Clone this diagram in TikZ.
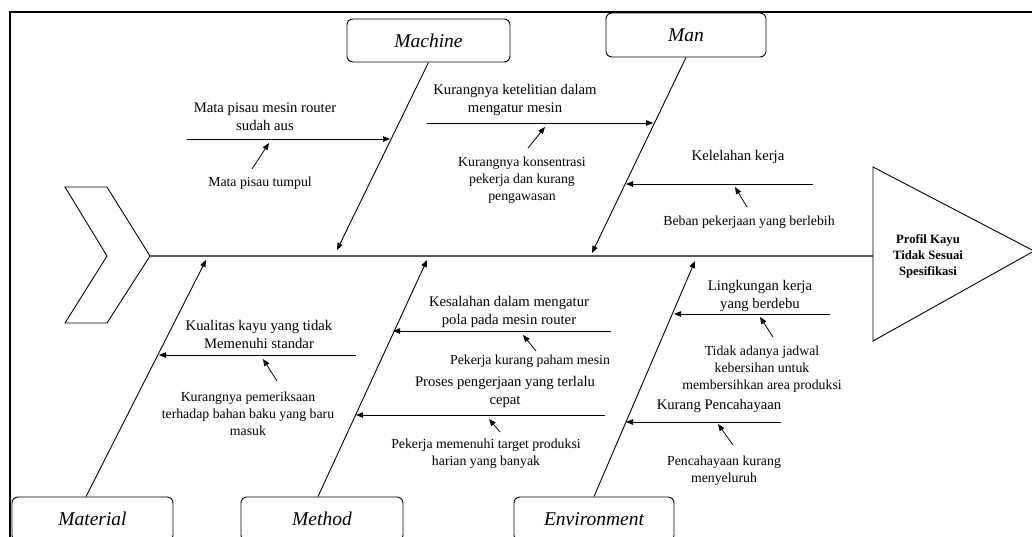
\documentclass[tikz,border=0pt]{standalone}
\usepackage{fontspec}
\setmainfont{Liberation Serif}
\usetikzlibrary{arrows.meta}
\begin{document}
\begin{tikzpicture}[x=1pt,y=-1pt,
  cat/.style={draw,rounded corners=6pt,line width=0.9pt,minimum width=161pt,minimum height=44pt,inner sep=0pt,font=\fontsize{19.5}{22}\selectfont\itshape},
  lbl/.style={align=center,font=\fontsize{14.7}{18}\selectfont,inner sep=0pt},
  sml/.style={align=center,font=\fontsize{13.8}{17}\selectfont,inner sep=0pt},
  hd/.style={align=center,font=\fontsize{12.7}{16}\selectfont\bfseries,inner sep=0pt},
  arr/.style={-{Triangle[length=7pt,width=5.5pt]},line width=0.8pt},
  bone/.style={line width=0.9pt,-{Triangle[length=7pt,width=5.5pt]}},
  outline/.style={line width=0.9pt,line join=miter},
]
\useasboundingbox (0,0) rectangle (1032,536);
\clip (0,0) rectangle (1032,536);
% frame
\draw[line width=1.4pt] (10,560) -- (10,12) -- (1040,12);

% fish tail (chevron) and spine
\coordinate (sp1) at (150,256);
\coordinate (sp2) at (873,256);
\draw[outline] (65,187) -- (107,187) -- (sp1) -- (107,323) -- (65,323) -- (107,256) -- cycle;
\draw[line width=1.4pt,gray!70!black] (sp1) -- (sp2);

% fish head
\draw[outline] (873,167) -- (1034,251) -- (873,341) -- cycle;
\node[hd] (effect) at (928,256) {Profil Kayu\\Tidak Sesuai\\Spesifikasi};

% categories
\node[cat,minimum width=163pt,minimum height=43pt] (machine) at (428.5,40.5) {Machine};
\node[cat,minimum width=160pt] (man) at (686,35) {Man};
\node[cat] (material) at (92.5,519) {Material};
\node[cat,minimum width=162pt] (method) at (322,519) {Method};
\node[cat,minimum width=160pt] (environment) at (594,519) {Environment};

% bone end points on spine
\coordinate (mcT) at (337,250);
\coordinate (mnT) at (592,253);
\coordinate (mtT) at (206,260);
\coordinate (meT) at (427,260);
\coordinate (enT) at (695,261);

\draw[bone] (machine.south) -- (mcT);
\draw[bone] (man.south) -- (mnT);
\draw[bone] ([xshift=-6.5pt]material.north) -- (mtT);
\draw[bone] ([xshift=-4pt]method.north) -- (meT);
\draw[bone] (environment.north) -- (enT);

% ---- Machine
\node[lbl] (c1) at (265,117) {Mata pisau mesin router\\sudah aus};
\coordinate (c1s) at (187,139); \coordinate (c1e) at (390,139);
\draw[arr] (c1s) -- (c1e);
\node[sml] (c1a) at (260,183) {Mata pisau tumpul};
\coordinate (c1at) at (252,169); \coordinate (c1ah) at (269,143);
\draw[arr] (c1at) -- (c1ah);

% ---- Man
\node[lbl] (c2) at (515,100) {Kurangnya ketelitian dalam\\mengatur mesin};
\coordinate (c2s) at (427,123); \coordinate (c2e) at (653,123);
\draw[arr] (c2s) -- (c2e);
\coordinate (c2at) at (528,148); \coordinate (c2ah) at (545,127);
\draw[arr] (c2at) -- (c2ah);
\node[sml] (c2a) at (522,180) {Kurangnya konsentrasi\\pekerja dan kurang\\pengawasan};

\node[lbl] (c3) at (738,157) {Kelelahan kerja};
\coordinate (c3s) at (813,184); \coordinate (c3e) at (626,184);
\draw[arr] (c3s) -- (c3e);
\coordinate (c3at) at (747,207); \coordinate (c3ah) at (735,187);
\draw[arr] (c3at) -- (c3ah);
\node[sml] (c3a) at (749,222) {Beban pekerjaan yang berlebih};

% ---- Material
\node[lbl] (c4) at (259,334) {Kualitas kayu yang tidak\\Memenuhi standar};
\coordinate (c4s) at (356,355); \coordinate (c4e) at (159,355);
\draw[arr] (c4s) -- (c4e);
\coordinate (c4at) at (277,381); \coordinate (c4ah) at (263,359);
\draw[arr] (c4at) -- (c4ah);
\node[sml] (c4a) at (248,414) {Kurangnya pemeriksaan\\terhadap bahan baku yang baru\\masuk};

% ---- Method
\node[lbl] (c5) at (509,312) {Kesalahan dalam mengatur\\pola pada mesin router};
\coordinate (c5s) at (611,331); \coordinate (c5e) at (393,331);
\draw[arr] (c5s) -- (c5e);
\coordinate (c5at) at (536,351); \coordinate (c5ah) at (523,335);
\draw[arr] (c5at) -- (c5ah);
\node[sml] (c5a) at (530,361) {Pekerja kurang paham mesin};

\node[lbl] (c6) at (505,392) {Proses pengerjaan yang terlalu\\cepat};
\coordinate (c6s) at (605,415); \coordinate (c6e) at (356,415);
\draw[arr] (c6s) -- (c6e);
\coordinate (c6at) at (500,432); \coordinate (c6ah) at (489,419);
\draw[arr] (c6at) -- (c6ah);
\node[sml] (c6a) at (486,454) {Pekerja memenuhi target produksi\\harian yang banyak};

% ---- Environment
\node[lbl] (c7) at (760,296) {Lingkungan kerja\\yang berdebu};
\coordinate (c7s) at (830,314); \coordinate (c7e) at (674,314);
\draw[arr] (c7s) -- (c7e);
\coordinate (c7at) at (773,337); \coordinate (c7ah) at (760,317);
\draw[arr] (c7at) -- (c7ah);
\node[sml] (c7a) at (762,369) {Tidak adanya jadwal\\kebersihan untuk\\membersihkan area produksi};

\node[lbl] (c8) at (719,406) {Kurang Pencahayaan};
\coordinate (c8s) at (781,422); \coordinate (c8e) at (626,422);
\draw[arr] (c8s) -- (c8e);
\coordinate (c8at) at (733,445); \coordinate (c8ah) at (718,424);
\draw[arr] (c8at) -- (c8ah);
\node[sml] (c8a) at (724,471) {Pencahayaan kurang\\menyeluruh};
\end{tikzpicture}
\end{document}
